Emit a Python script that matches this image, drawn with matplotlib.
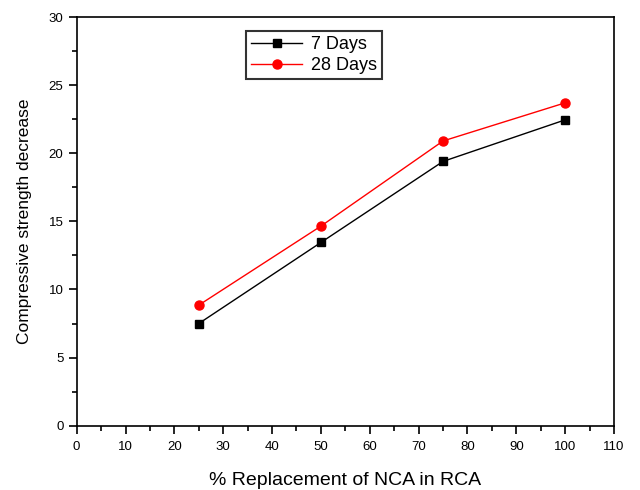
import matplotlib
matplotlib.use("Agg")
import matplotlib.pyplot as plt
from matplotlib.ticker import MultipleLocator

plt.rcParams['font.family'] = ['Liberation Sans', 'DejaVu Sans']

replacement = [25, 50, 75, 100]
days7 = [7.5, 13.45, 19.4, 22.45]
days28 = [8.85, 14.65, 20.9, 23.7]

fig = plt.figure(figsize=(6.4, 4.9), dpi=100)
ax = fig.add_axes([0.1198, 0.1312, 0.8396, 0.8341])

ax.plot(replacement, days7, color='black', marker='s', markersize=6, linewidth=1, label='7 Days')
ax.plot(replacement, days28, color='red', marker='o', markersize=6.5, linewidth=1, label='28 Days')

ax.set_xlim(0, 110)
ax.set_ylim(0, 30)
ax.xaxis.set_major_locator(MultipleLocator(10))
ax.xaxis.set_minor_locator(MultipleLocator(5))
ax.yaxis.set_major_locator(MultipleLocator(5))
ax.yaxis.set_minor_locator(MultipleLocator(2.5))
ax.tick_params(which='both', direction='out', top=False, right=False, labelsize=9.5, width=1.2)
ax.tick_params(which='major', length=6)
ax.tick_params(axis='x', which='major', pad=5)
ax.tick_params(which='minor', length=3.5)
for s in ax.spines.values():
    s.set_linewidth(1.2)

ax.set_xlabel('% Replacement of NCA in RCA', fontsize=14, labelpad=14)
ax.set_ylabel('Compressive strength decrease', fontsize=12.5, labelpad=12)

leg = ax.legend(loc='upper left', bbox_to_anchor=(0.315, 0.966), fontsize=13,
                frameon=True, fancybox=False, edgecolor='black', handlelength=2.8,
                handletextpad=0.5, borderpad=0.3, labelspacing=0.2, borderaxespad=0)
leg.get_frame().set_linewidth(1.5)

fig.savefig('out.png', dpi=100)
